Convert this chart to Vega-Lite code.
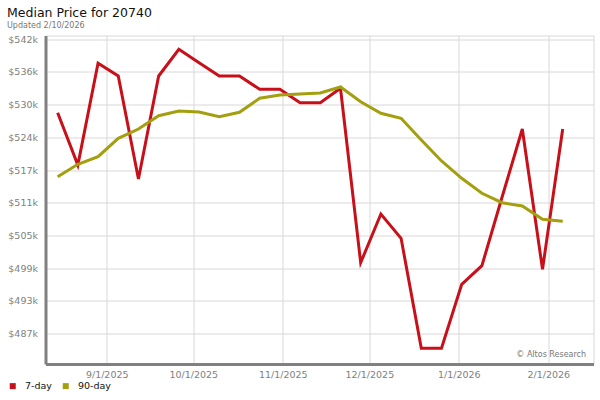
{
  "$schema": "https://vega.github.io/schema/vega-lite/v6.json",
  "autosize": "none",
  "padding": {"left": 45.5, "top": 35.5, "right": 6.5, "bottom": 36},
  "width": 548,
  "height": 328.5,
  "background": "white",
  "config": {
    "font": "DejaVu Sans",
    "view": {"stroke": "#d8d8d8", "strokeWidth": 1},
    "axis": {"gridColor": "#d8d8d8", "gridWidth": 1, "ticks": false, "labelColor": "#808080", "labelFontSize": 9.5, "domainColor": "#808080", "domainWidth": 3, "title": null, "labelOverlap": false}
  },
  "title": {
    "text": "Median Price for 20740",
    "subtitle": "Updated 2/10/2026",
    "anchor": "start",
    "frame": "group",
    "dx": -38.5,
    "offset": 4,
    "fontSize": 12.5,
    "fontWeight": "normal",
    "color": "#111111",
    "subtitleFontSize": 8,
    "subtitleColor": "#777777",
    "subtitlePadding": 3
  },
  "datasets": {
    "prices": [
      {"date": "2025-08-15T00:00:00", "series": "7-day", "price": 528140},
      {"date": "2025-08-22T00:00:00", "series": "7-day", "price": 518350},
      {"date": "2025-08-29T00:00:00", "series": "7-day", "price": 537390},
      {"date": "2025-09-05T00:00:00", "series": "7-day", "price": 535010},
      {"date": "2025-09-12T00:00:00", "series": "7-day", "price": 515730},
      {"date": "2025-09-19T00:00:00", "series": "7-day", "price": 535010},
      {"date": "2025-09-26T00:00:00", "series": "7-day", "price": 540010},
      {"date": "2025-10-03T00:00:00", "series": "7-day", "price": 537500},
      {"date": "2025-10-10T00:00:00", "series": "7-day", "price": 535010},
      {"date": "2025-10-17T00:00:00", "series": "7-day", "price": 535010},
      {"date": "2025-10-24T00:00:00", "series": "7-day", "price": 532520},
      {"date": "2025-10-31T00:00:00", "series": "7-day", "price": 532520},
      {"date": "2025-11-07T00:00:00", "series": "7-day", "price": 530020},
      {"date": "2025-11-14T00:00:00", "series": "7-day", "price": 530020},
      {"date": "2025-11-21T00:00:00", "series": "7-day", "price": 532710},
      {"date": "2025-11-28T00:00:00", "series": "7-day", "price": 500070},
      {"date": "2025-12-05T00:00:00", "series": "7-day", "price": 509180},
      {"date": "2025-12-12T00:00:00", "series": "7-day", "price": 504630},
      {"date": "2025-12-19T00:00:00", "series": "7-day", "price": 484050},
      {"date": "2025-12-26T00:00:00", "series": "7-day", "price": 484050},
      {"date": "2026-01-02T00:00:00", "series": "7-day", "price": 496030},
      {"date": "2026-01-09T00:00:00", "series": "7-day", "price": 499510},
      {"date": "2026-01-16T00:00:00", "series": "7-day", "price": 512360},
      {"date": "2026-01-23T00:00:00", "series": "7-day", "price": 525090},
      {"date": "2026-01-30T00:00:00", "series": "7-day", "price": 498830},
      {"date": "2026-02-06T00:00:00", "series": "7-day", "price": 525090},
      {"date": "2025-08-15T00:00:00", "series": "90-day", "price": 516160},
      {"date": "2025-08-22T00:00:00", "series": "90-day", "price": 518480},
      {"date": "2025-08-29T00:00:00", "series": "90-day", "price": 519910},
      {"date": "2025-09-05T00:00:00", "series": "90-day", "price": 523350},
      {"date": "2025-09-12T00:00:00", "series": "90-day", "price": 525090},
      {"date": "2025-09-19T00:00:00", "series": "90-day", "price": 527580},
      {"date": "2025-09-26T00:00:00", "series": "90-day", "price": 528460},
      {"date": "2025-10-03T00:00:00", "series": "90-day", "price": 528270},
      {"date": "2025-10-10T00:00:00", "series": "90-day", "price": 527390},
      {"date": "2025-10-17T00:00:00", "series": "90-day", "price": 528220},
      {"date": "2025-10-24T00:00:00", "series": "90-day", "price": 530840},
      {"date": "2025-10-31T00:00:00", "series": "90-day", "price": 531460},
      {"date": "2025-11-07T00:00:00", "series": "90-day", "price": 531640},
      {"date": "2025-11-14T00:00:00", "series": "90-day", "price": 531830},
      {"date": "2025-11-21T00:00:00", "series": "90-day", "price": 532950},
      {"date": "2025-11-28T00:00:00", "series": "90-day", "price": 530200},
      {"date": "2025-12-05T00:00:00", "series": "90-day", "price": 528030},
      {"date": "2025-12-12T00:00:00", "series": "90-day", "price": 527090},
      {"date": "2025-12-19T00:00:00", "series": "90-day", "price": 523030},
      {"date": "2025-12-26T00:00:00", "series": "90-day", "price": 519100},
      {"date": "2026-01-02T00:00:00", "series": "90-day", "price": 515860},
      {"date": "2026-01-09T00:00:00", "series": "90-day", "price": 513060},
      {"date": "2026-01-16T00:00:00", "series": "90-day", "price": 511300},
      {"date": "2026-01-23T00:00:00", "series": "90-day", "price": 510680},
      {"date": "2026-01-30T00:00:00", "series": "90-day", "price": 508190},
      {"date": "2026-02-06T00:00:00", "series": "90-day", "price": 507820}
    ]
  },
  "layer": [
    {
      "data": {"name": "prices"},
      "mark": {"type": "line", "strokeWidth": 3, "strokeJoin": "miter", "clip": true},
      "encoding": {
        "x": {
          "field": "date", "type": "temporal",
          "scale": {"domain": [{"year": 2025, "month": 8, "date": 10, "hours": 19}, {"year": 2026, "month": 2, "date": 16, "hours": 16}]},
          "axis": {
            "values": [
              {"year": 2025, "month": 9, "date": 1},
              {"year": 2025, "month": 10, "date": 1},
              {"year": 2025, "month": 11, "date": 1},
              {"year": 2025, "month": 12, "date": 1},
              {"year": 2026, "month": 1, "date": 1},
              {"year": 2026, "month": 2, "date": 1}
            ],
            "tickCount": 20,
            "format": "%-m/%-d/%Y",
            "labelPadding": 5,
            "labelFlush": false,
            "labelOverlap": false
          }
        },
        "y": {
          "field": "price", "type": "quantitative",
          "scale": {"domain": [481110, 542590], "zero": false, "nice": false},
          "axis": {
            "values": [486800, 492920, 499040, 505160, 511280, 517400, 523520, 529640, 535760, 541880],
            "tickCount": 20,
            "labelExpr": "'$' + format(datum.value / 1000, '.0f') + 'k'",
            "labelPadding": 8,
            "labelFlush": false,
            "labelOverlap": false,
            "labelBound": false
          }
        },
        "color": {
          "field": "series", "type": "nominal",
          "scale": {"domain": ["7-day", "90-day"], "range": ["#c8101a", "#a39f0f"]},
          "legend": {
            "title": null,
            "orient": "none",
            "direction": "horizontal",
            "legendX": -37.5,
            "legendY": 345.5,
            "padding": 0,
            "symbolType": "square",
            "symbolSize": 36,
            "symbolStrokeWidth": 0,
            "labelFontSize": 9.5,
            "labelColor": "#111111",
            "labelOffset": 7.5,
            "columnPadding": 9,
            "encode": {"symbols": {"update": {"fill": {"scale": "color", "field": "value"}, "stroke": {"value": "transparent"}, "opacity": {"value": 1}}}}
          }
        }
      }
    },
    {
      "data": {"values": [{"note": "© Altos Research"}]},
      "mark": {"type": "text", "align": "right", "baseline": "alphabetic", "fontSize": 8, "color": "#777777"},
      "encoding": {
        "text": {"field": "note"},
        "x": {"datum": {"year": 2026, "month": 2, "date": 14, "hours": 2}, "type": "temporal"},
        "y": {"datum": 482360, "type": "quantitative"}
      }
    }
  ]
}
